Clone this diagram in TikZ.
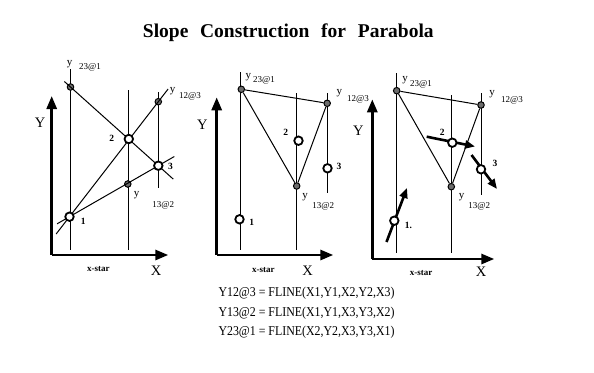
\documentclass[tikz,border=0pt]{standalone}
\usepackage{fontspec}
\setmainfont{Liberation Serif}
\usetikzlibrary{arrows.meta,calc}
\tikzset{
  pt/.style={circle,draw,line width=1.8pt,fill=white,inner sep=0pt,minimum size=8.5pt},
  sdot/.style={circle,draw,line width=1pt,fill=gray!85!black,inner sep=0pt,minimum size=6.5pt},
  axis/.style={line width=2.8pt,-{Triangle[length=13pt,width=10pt]}},
  vline/.style={line width=1pt},
  cline/.style={line width=1pt},
  slopearrow/.style={line width=2.6pt,-{Triangle[length=10pt,width=8pt]}},
  ylab/.style={inner sep=0pt,font=\fontsize{11}{11}\selectfont},
  sublab/.style={inner sep=0pt,font=\fontsize{9}{9}\selectfont},
  numlab/.style={inner sep=0pt,font=\bfseries\fontsize{9.5}{10}\selectfont},
  axlab/.style={inner sep=0pt,font=\fontsize{14.5}{15}\selectfont},
  starlab/.style={inner sep=0pt,font=\bfseries\fontsize{9}{9}\selectfont},
}
\begin{document}
\begin{tikzpicture}[x=1pt,y=-1pt]
\useasboundingbox (0,0) rectangle (594,372);
% title
\node[inner sep=0pt,font=\bfseries\fontsize{19.5}{20}\selectfont] (title) at (288.3,33)
  {Slope\hspace{0.6em}Construction\hspace{0.6em}for\hspace{0.6em}Parabola};

% ================= Panel 1 =================
\coordinate (o1) at (51.7,255);
\coordinate (ya1) at (51.7,96);
\coordinate (xa1) at (168.3,255);
\draw[axis] (o1) -- (ya1);
\draw[axis] (o1) -- (xa1);
\draw[vline] (70,69) -- (70,250);
\draw[vline] (128.5,90) -- (128.5,250);
\draw[vline] (158.3,92) -- (158.3,188);
\node[sdot] (a23) at (70.5,87) {};
\node[sdot] (a12) at (158.3,101.7) {};
\node[sdot] (a13) at (127.8,184) {};
\coordinate (ap1) at (69.5,216.7);
\coordinate (ap2) at (128.8,139);
\coordinate (ap3) at (158.3,165.7);
\draw[cline] ($(ap1)!-0.15!(a12)$) -- ($(ap1)!1.11!(a12)$);
\draw[cline] ($(ap1)!-0.14!(ap3)$) -- ($(ap1)!1.18!(ap3)$);
\draw[cline] ($(a23)!-0.07!(ap3)$) -- ($(a23)!1.17!(ap3)$);
\node[pt] (p11) at (ap1) {};
\node[pt] (p12) at (ap2) {};
\node[pt] (p13) at (ap3) {};
\node[numlab] (l11) at (83.3,221.7) {1};
\node[numlab] (l12) at (111.7,138.3) {2};
\node[numlab] (l13) at (170.5,166.7) {3};
\node[ylab] (y231a) at (69.5,64.5) {y};
\node[sublab] (s231a) at (90,67.3) {23@1};
\node[ylab] (y123a) at (172.7,91) {y};
\node[sublab] (s123a) at (190,96.5) {12@3};
\node[ylab] (y132a) at (136.7,195.5) {y};
\node[sublab] (s132a) at (163.3,205.5) {13@2};
\node[axlab] (Ya) at (40,123) {Y};
\node[axlab] (Xa) at (156,270.7) {X};
\node[starlab] (xsa) at (98.3,269.3) {x-star};

% ================= Panel 2 =================
\coordinate (o2) at (216.7,255);
\coordinate (ya2) at (216.7,97.3);
\coordinate (xa2) at (333.3,255);
\draw[axis] (o2) -- (ya2);
\draw[axis] (o2) -- (xa2);
\draw[vline] (240.5,72) -- (240.5,250);
\draw[vline] (296.7,93) -- (296.7,250);
\draw[vline] (327.5,93) -- (327.5,193);
\node[sdot] (b23) at (241.3,89.3) {};
\node[sdot] (b12) at (327.2,103.3) {};
\node[sdot] (b13) at (296.7,186) {};
\draw[cline] (b23) -- (b12);
\draw[cline] (b23) -- (b13);
\draw[cline] (b13) -- (b12);
\node[pt] (p21) at (239.5,219.3) {};
\node[pt] (p22) at (298.5,140.7) {};
\node[pt] (p23) at (327.5,168.3) {};
\node[numlab] (l21) at (251.7,222.7) {1};
\node[numlab] (l22) at (285.7,132.7) {2};
\node[numlab] (l23) at (339,166) {3};
\node[ylab] (y231b) at (248.3,77.5) {y};
\node[sublab] (s231b) at (264,80.5) {23@1};
\node[ylab] (y123b) at (339.3,93) {y};
\node[sublab] (s123b) at (358,99) {12@3};
\node[ylab] (y132b) at (305,197.5) {y};
\node[sublab] (s132b) at (323.3,206.7) {13@2};
\node[axlab] (Yb) at (202.3,125) {Y};
\node[axlab] (Xb) at (307.7,270.7) {X};
\node[starlab] (xsb) at (263.3,270) {x-star};

% ================= Panel 3 =================
\coordinate (o3) at (372.3,259);
\coordinate (ya3) at (372.3,99.3);
\coordinate (xa3) at (494.3,259);
\draw[axis] (o3) -- (ya3);
\draw[axis] (o3) -- (xa3);
\draw[vline] (396,73) -- (396,253);
\draw[vline] (451.5,95) -- (451.5,253);
\draw[vline] (481,93) -- (481,195);
\node[sdot] (c23) at (396.7,90.7) {};
\node[sdot] (c12) at (481,105) {};
\node[sdot] (c13) at (451.3,186.7) {};
\draw[cline] (c23) -- (c12);
\draw[cline] (c23) -- (c13);
\draw[cline] (c13) -- (c12);
\coordinate (t1) at (386.5,242);
\coordinate (h1) at (407,188);
\coordinate (t2) at (426.7,136.7);
\coordinate (h2) at (475,146.5);
\coordinate (t3) at (471.5,155);
\coordinate (h3) at (497,189);
\draw[slopearrow] (t1) -- (h1);
\draw[slopearrow] (t2) -- (h2);
\draw[slopearrow] (t3) -- (h3);
\node[pt] (p31) at (394.3,220.7) {};
\node[pt] (p32) at (452.3,142.7) {};
\node[pt] (p33) at (481,169.3) {};
\node[numlab] (l31) at (408.5,225) {1.};
\node[numlab] (l32) at (442.3,132.7) {2};
\node[numlab] (l33) at (495,163.3) {3};
\node[ylab] (y231c) at (405,80) {y};
\node[sublab] (s231c) at (421,84) {23@1};
\node[ylab] (y123c) at (492,94) {y};
\node[sublab] (s123c) at (512,100) {12@3};
\node[ylab] (y132c) at (461.7,197.5) {y};
\node[sublab] (s132c) at (479.3,206.7) {13@2};
\node[axlab] (Yc) at (358.3,130.7) {Y};
\node[axlab] (Xc) at (481,271.7) {X};
\node[starlab] (xsc) at (421,272.7) {x-star};

% ================= Equations =================
\tikzset{eq/.style={anchor=west,inner sep=0pt,font=\fontsize{13.5}{14}\selectfont}}
\node[eq] (e1) at (218.3,293.3) {\scalebox{0.88}[1]{Y12@3 = FLINE(X1,Y1,X2,Y2,X3)}};
\node[eq] (e2) at (218.3,313.3) {\scalebox{0.88}[1]{Y13@2 = FLINE(X1,Y1,X3,Y3,X2)}};
\node[eq] (e3) at (218.3,332.7) {\scalebox{0.88}[1]{Y23@1 = FLINE(X2,Y2,X3,Y3,X1)}};
\end{tikzpicture}
\end{document}
